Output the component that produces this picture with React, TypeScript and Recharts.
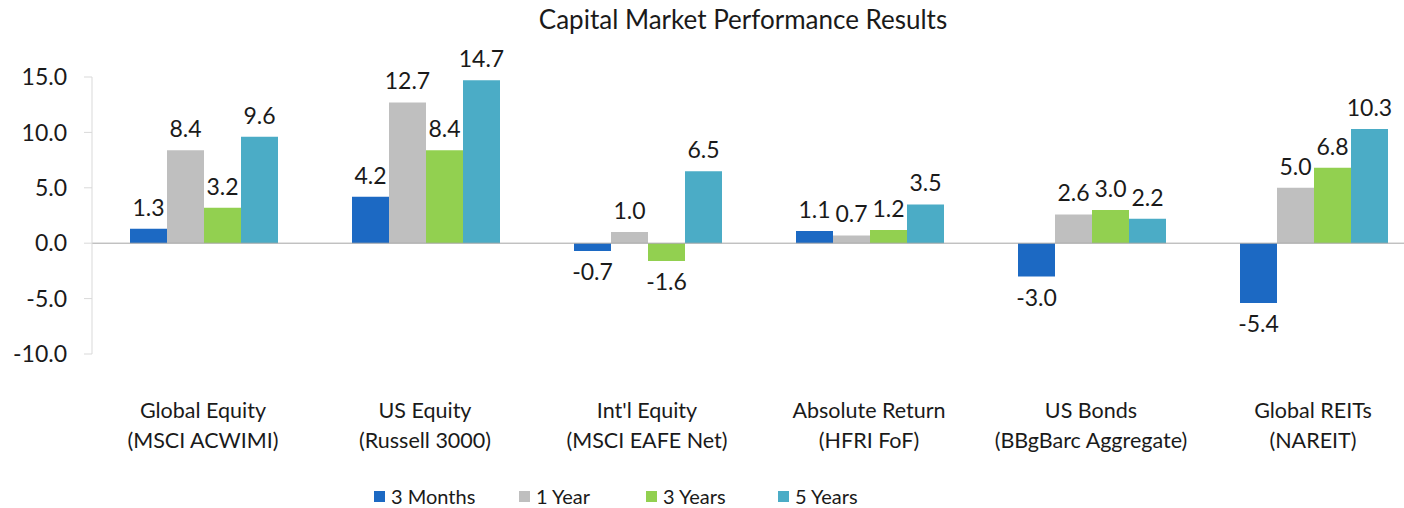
import React from "react";
import { BarChart, Bar, XAxis, YAxis, ReferenceLine, LabelList, Legend } from "recharts";

const categories = ["Global Equity", "US Equity", "Int'l Equity", "Absolute Return", "US Bonds", "Global REITs"];
const benchmarks = ["(MSCI ACWIMI)", "(Russell 3000)", "(MSCI EAFE Net)", "(HFRI FoF)", "(BBgBarc Aggregate)", "(NAREIT)"];
const months3 = [1.3, 4.2, -0.7, 1.1, -3.0, -5.4];
const year1 = [8.4, 12.7, 1.0, 0.7, 2.6, 5.0];
const years3 = [3.2, 8.4, -1.6, 1.2, 3.0, 6.8];
const years5 = [9.6, 14.7, 6.5, 3.5, 2.2, 10.3];
const yTicks = [-10, -5, 0, 5, 10, 15];
const seriesNames = ["3 Months", "1 Year", "3 Years", "5 Years"];
const seriesKeys = ["m3", "y1", "y3", "y5"];
const seriesColors = ["#1C69C3", "#BFBFBF", "#92D050", "#4BACC6"];

const data = categories.map((name, i) => ({
  name,
  bench: benchmarks[i],
  m3: months3[i],
  y1: year1[i],
  y3: years3[i],
  y5: years5[i],
}));

const FONT = "Lato, 'Open Sans', sans-serif";
const TEXT = "#1a1a1a";
const legendItemWidths = [145, 127, 132, 120];

const CategoryTick = (props: any) => {
  const { x, y, payload } = props;
  const idx = payload.index;
  return (
    <g>
      <text x={x} y={y + 64} textAnchor="middle" fontSize={21.5} fill={TEXT} fontFamily={FONT}>
        {categories[idx]}
      </text>
      <text x={x} y={y + 94} textAnchor="middle" fontSize={21.5} fill={TEXT} fontFamily={FONT}>
        {benchmarks[idx]}
      </text>
    </g>
  );
};

const LegendContent = () => (
  <div
    style={{
      display: "flex",
      alignItems: "center",
      height: 24,
      paddingLeft: 374,
      fontFamily: FONT,
      fontSize: 20,
      color: TEXT,
    }}
  >
    {seriesNames.map((n, i) => (
      <div key={n} style={{ display: "flex", alignItems: "center", width: legendItemWidths[i] }}>
        <span style={{ width: 11, height: 11, background: seriesColors[i], display: "inline-block", marginRight: 6 }} />
        <span>{n}</span>
      </div>
    ))}
  </div>
);

export default function App() {
  return (
    <div style={{ position: "fixed", left: 0, top: 0, width: 1404, height: 508, overflow: "hidden", background: "#fff" }}>
      <div
        style={{
          position: "absolute",
          left: 0,
          width: 1486,
          top: 3,
          textAlign: "center",
          fontFamily: FONT,
          fontSize: 26,
          color: TEXT,
        }}
      >
        Capital Market Performance Results
      </div>
      <BarChart
        width={1440}
        height={508}
        data={data}
        margin={{ top: 77, right: 16, bottom: 0, left: 0 }}
        barCategoryGap={38}
        barGap={0}
      >
        <YAxis
          width={92}
          domain={[-10, 15]}
          ticks={yTicks}
          interval={0}
          tickFormatter={(v: number) => v.toFixed(1)}
          axisLine={{ stroke: "#D9D9D9" }}
          tickLine={{ stroke: "#D9D9D9" }}
          tickSize={8}
          tickMargin={17}
          tick={{ fontSize: 23, fill: TEXT, fontFamily: FONT }}
        />
        <XAxis
          dataKey="name"
          height={130}
          axisLine={false}
          tickLine={false}
          tickSize={0}
          tickMargin={0}
          interval={0}
          tick={<CategoryTick />}
        />
        <ReferenceLine y={0} stroke="#A6A6A6" strokeWidth={1} />
        {seriesKeys.map((k, i) => (
          <Bar key={k} dataKey={k} name={seriesNames[i]} fill={seriesColors[i]} isAnimationActive={false}>
            <LabelList
              dataKey={k}
              position="top"
              offset={13}
              formatter={(v: any) => Number(v).toFixed(1)}
              style={{ fontSize: 23, fill: TEXT, fontFamily: FONT }}
            />
          </Bar>
        ))}
        <Legend
          verticalAlign="bottom"
          content={<LegendContent />}
          wrapperStyle={{ left: 0, width: 1440, bottom: 0 }}
        />
      </BarChart>
    </div>
  );
}
